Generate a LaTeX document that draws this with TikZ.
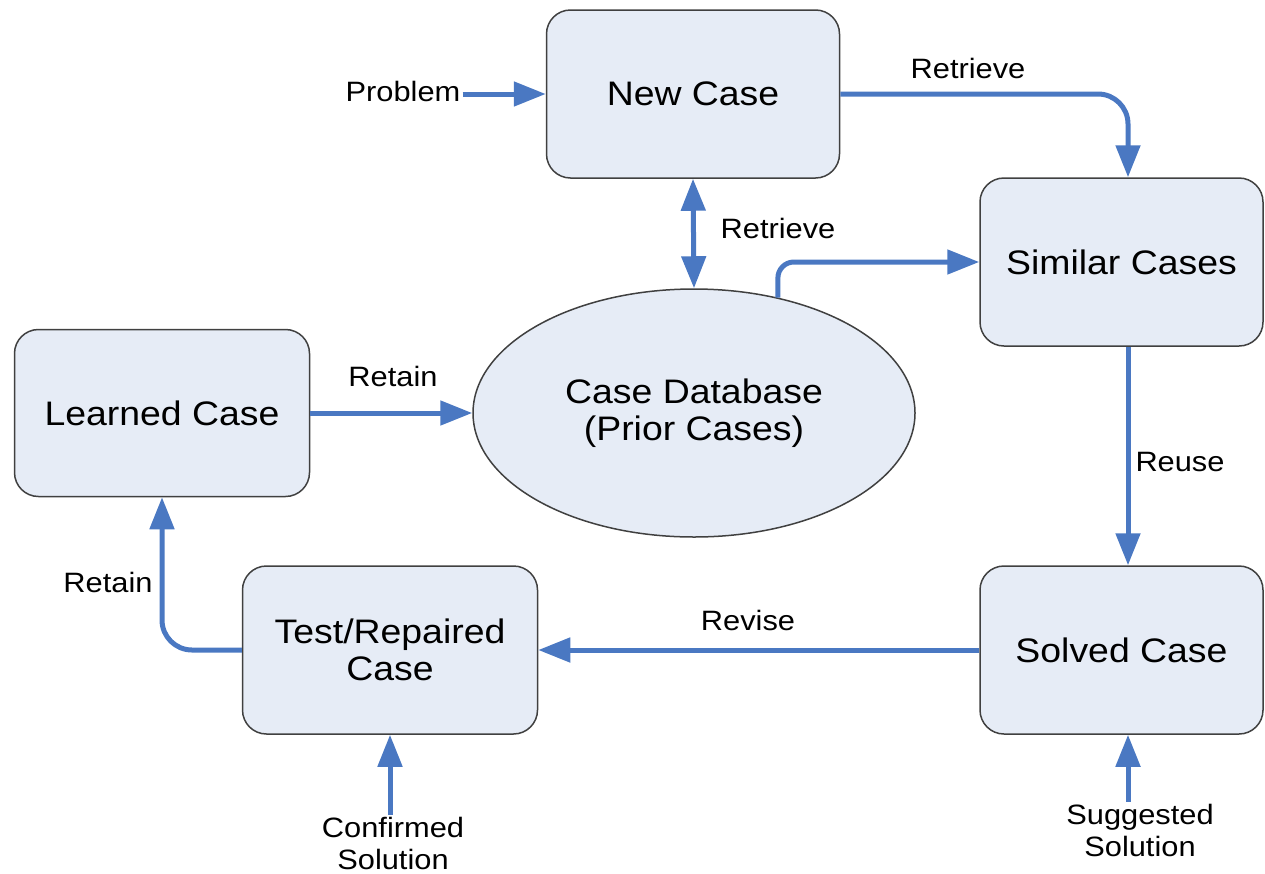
\documentclass[tikz,border=0pt]{standalone}
\usepackage{fontspec}
\setmainfont{Liberation Sans}[FakeStretch=1.1]
\usetikzlibrary{arrows.meta,shapes.geometric,calc}
\definecolor{boxfill}{HTML}{E6ECF6}
\definecolor{boxline}{HTML}{404040}
\definecolor{arrowblue}{HTML}{4A78C2}
\begin{document}
\begin{tikzpicture}[x=1pt,y=-1pt,
  box/.style={draw=boxline, line width=1.5pt, fill=boxfill, rounded corners=24pt,
    minimum width=293pt, minimum height=168pt, inner sep=0pt, align=center,
    font=\fontsize{34}{37}\selectfont},
  dbnode/.style={ellipse, draw=boxline, line width=1.5pt, fill=boxfill,
    minimum width=442pt, minimum height=248pt, inner sep=0pt, align=center,
    font=\fontsize{34}{37}\selectfont},
  lbl/.style={inner sep=2pt, align=center, font=\fontsize{28}{32}\selectfont},
  arr/.style={draw=arrowblue, line width=5pt, -{Triangle[width=24pt,length=32pt]}},
  darr/.style={draw=arrowblue, line width=5pt, {Triangle[width=24pt,length=32pt]}-{Triangle[width=24pt,length=32pt]}}
]
\useasboundingbox (0,0) rectangle (1265,873);
\node[box] (newcase) at (693,94) {New Case};
\node[box, minimum width=283pt] (similar) at (1121.5,262) {Similar Cases};
\node[box, minimum width=283pt] (solved) at (1121.5,650) {Solved Case};
\node[box, minimum width=295pt] (test) at (390,650) {Test/Repaired\\Case};
\node[box, minimum width=295pt, minimum height=167pt] (learned) at (162,413) {Learned Case};
\node[dbnode] (db) at (694,413) {Case Database\\(Prior Cases)};

\node[lbl] (problem) at (403,91) {Problem};
\node[lbl] (confirmed) at (393,843) {Confirmed\\Solution};
\node[lbl] (suggested) at (1140,830) {Suggested\\Solution};

\node[lbl] (lretrieve1) at (968,68) {Retrieve};
\node[lbl] (lretrieve2) at (778,228) {Retrieve};
\node[lbl] (lreuse) at (1180,462) {Reuse};
\node[lbl] (lrevise) at (748,620) {Revise};
\node[lbl] (lretain1) at (393,376) {Retain};
\node[lbl] (lretain2) at (108,582) {Retain};

\coordinate (simN) at ($(similar.north)+(6.5,0)$);
\coordinate (simS) at ($(similar.south)+(6.5,0)$);
\coordinate (solN) at ($(solved.north)+(6.5,0)$);
\coordinate (solS) at ($(solved.south)+(6.5,0)$);

\draw[arr] (problem.east |- newcase.west) -- (newcase.west);
\draw[arr, rounded corners=30pt] (newcase.east) -| (simN);
\draw[darr] (newcase.south) -- (db.north);
\draw[arr, rounded corners=16pt] (db.54) |- (similar.west);
\draw[arr] (simS) -- (solN);
\draw[arr] (solved.west) -- (test.east);
\draw[arr, rounded corners=30pt] (test.west) -| (learned.south);
\draw[arr] (learned.east) -- (db.west);
\draw[arr] (test.south |- confirmed.north) -- (test.south);
\draw[arr] (solS |- suggested.north) -- (solS);
\end{tikzpicture}
\end{document}
